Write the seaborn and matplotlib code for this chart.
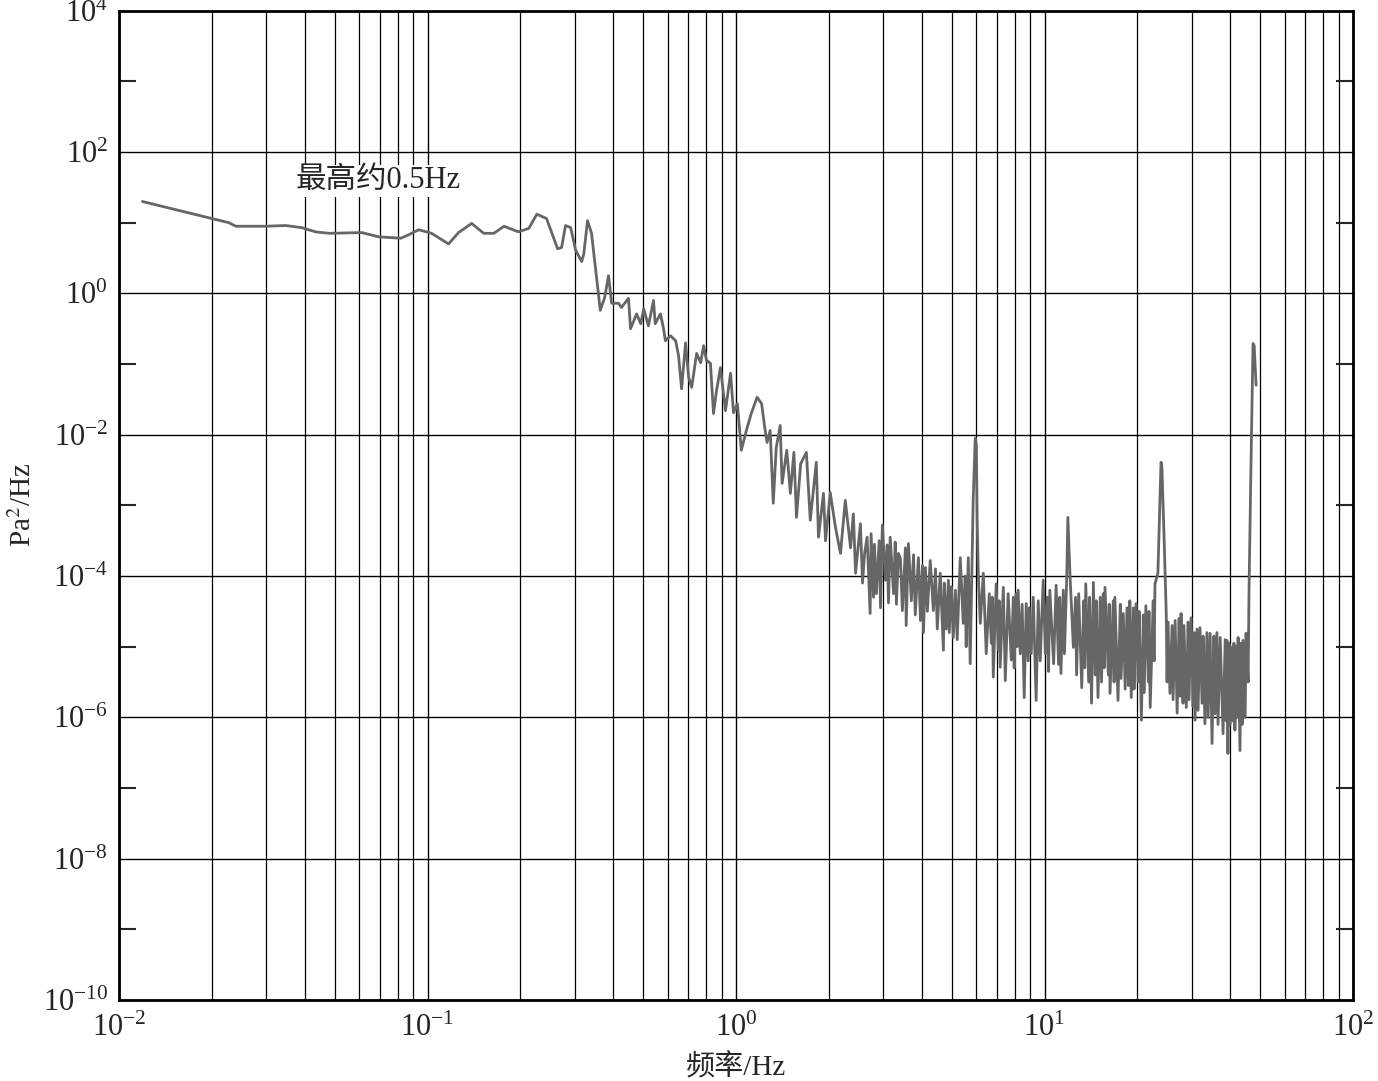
import numpy as np
import pandas as pd
import matplotlib
matplotlib.use("Agg")
import matplotlib.pyplot as plt
import matplotlib.ticker as mticker
import seaborn as sns

# ===============================
# Pressure PSD, log-log
# values
# ===============================

# frequency (Hz)
freq_hz = [
    0.0119, 0.0199, 0.0227, 0.0239, 0.0299, 0.0347, 0.0391, 0.0434, 0.0479, 0.0612,
    0.0695, 0.0819, 0.0869, 0.0936, 0.103, 0.117, 0.126, 0.139, 0.152, 0.164,
    0.177, 0.197, 0.213, 0.226, 0.243, 0.253, 0.264, 0.272, 0.280, 0.291,
    0.302, 0.316, 0.321, 0.330, 0.340, 0.350, 0.363, 0.375, 0.386, 0.395,
    0.416, 0.425, 0.448, 0.455, 0.476, 0.491, 0.502, 0.520, 0.540, 0.547,
    0.569, 0.582, 0.590, 0.613, 0.637, 0.651, 0.666, 0.686, 0.702, 0.718,
    0.745, 0.768, 0.785, 0.802, 0.826, 0.845, 0.864, 0.890, 0.924, 0.960,
    0.981, 1.01, 1.04, 1.08, 1.12, 1.17, 1.21, 1.24, 1.26, 1.29,
    1.32, 1.35, 1.39, 1.41, 1.46, 1.50, 1.54, 1.57, 1.62, 1.69,
    1.74, 1.82, 1.85, 1.92, 1.95, 2.02, 2.10, 2.18, 2.26, 2.35,
    2.40, 2.44,
    2.53, 2.57, 2.61, 2.66, 2.72, 2.74, 2.79, 2.81, 2.85, 2.91,
    2.94, 2.98, 3.05, 3.09, 3.12, 3.16, 3.24, 3.28, 3.31, 3.36,
    3.41, 3.46, 3.54, 3.56, 3.62, 3.70, 3.76, 3.81, 3.90, 3.96,
    4.02, 4.05, 4.11, 4.17, 4.26, 4.36, 4.43, 4.49, 4.59, 4.70,
    4.73, 4.80, 4.88, 4.91, 4.99, 5.06, 5.14, 5.21, 5.33, 5.45,
    5.53, 5.57, 5.66, 5.74, 5.83, 5.87, 5.96, 6.01, 6.05, 6.10,
    6.19, 6.33, 6.47, 6.62, 6.72, 6.77, 6.82, 6.97, 7.08, 7.13,
    7.18, 7.35, 7.46, 7.62, 7.80, 7.92, 7.97, 8.09, 8.15, 8.21,
    8.34, 8.46, 8.59, 8.72, 8.85, 8.92, 9.05, 9.19, 9.39, 9.54,
    9.68, 9.90, 10.06, 10.2, 10.3, 10.4, 10.7, 10.9, 11.1, 11.2,
    11.3, 11.5, 11.6, 11.8, 11.9, 12.1, 12.4, 12.6, 12.7, 12.9,
    13.2, 13.4, 13.5, 13.6, 13.9, 14.0, 14.2, 14.4, 14.6, 14.7,
    14.9, 15.15, 15.3, 15.5, 15.6, 15.7, 16.1, 16.2, 16.3, 16.7,
    16.8, 16.9, 17.3, 17.6, 17.7, 18.0, 18.25, 18.5, 18.7, 18.9,
    19.1, 19.4, 19.5, 19.8, 20.1, 20.25, 20.6, 20.9, 21.0, 21.3,
    21.7, 21.8, 22.0, 22.5, 22.65, 22.8, 23.3, 23.85, 24.0, 24.4,
    24.8, 24.95, 25.1, 25.5, 25.9, 26.1, 26.5, 26.9, 27.3, 27.5,
    27.7, 28.1, 28.3, 28.8, 29.2, 29.4, 29.85, 30.3, 30.5, 30.75,
    31.2, 31.45, 31.9, 32.4, 32.65, 33.1, 33.6, 33.9, 34.4, 34.9,
    35.4, 35.7, 36.2, 36.5, 37.1, 37.9, 38.5, 38.8, 39.0, 39.3,
    39.6, 39.9, 40.2, 40.8, 41.1, 41.4, 41.8, 42.1, 42.4, 43.0,
    43.35, 43.7, 44.0, 44.7, 45.0, 45.7, 46.0, 46.7, 47.4, 47.8,
    48.5,
]

# power spectral density, dB re 1 Pa^2/Hz
psd_db = [
    13.0, 10.6, 10.0, 9.5, 9.5, 9.6, 9.3, 8.7, 8.5, 8.6,
    8.0, 7.8, 8.3, 9.0, 8.5, 7.0, 8.6, 9.9, 8.5, 8.5,
    9.5, 8.7, 9.2, 11.2, 10.6, 8.5, 6.3, 6.5, 9.6, 9.3,
    6.1, 4.5, 5.6, 10.3, 8.5, 3.7, -2.4, -0.6, 2.5, -1.4,
    -1.4, -2.0, -0.7, -5.0, -2.9, -4.3, -2.2, -4.6, -1.0, -4.3,
    -2.9, -5.0, -6.7, -6.0, -6.7, -8.8, -13.5, -7.0, -11.9, -13.3,
    -8.5, -9.8, -7.4, -9.5, -9.9, -17.0, -13.8, -10.5, -16.6, -11.3,
    -16.9, -15.6, -22.2, -19.4, -17.0, -14.7, -15.6, -19.1, -21.1, -19.4,
    -29.7, -21.8, -18.7, -26.9, -22.2, -28.3, -22.5, -31.7, -24.1, -22.5,
    -32.1, -23.9, -34.5, -28.3, -35.0, -28.2, -33.1, -36.8, -29.3, -36.0,
    -31.2, -39.6,
    -32.6, -41.0, -36.8, -34.5, -45.3, -34.0, -43.0, -35.5, -42.5, -35.0,
    -44.5, -32.8, -40.6, -35.6, -43.8, -34.5, -42.5, -35.2, -44.0, -36.8,
    -37.5, -44.9, -36.0, -47.0, -35.4, -43.5, -37.0, -45.5, -37.4, -46.3,
    -38.5, -48.0, -38.8, -45.0, -37.8, -44.9, -39.0, -47.5, -39.6, -50.5,
    -41.0, -47.5, -40.6, -48.0, -41.5, -48.7, -42.0, -49.0, -37.4, -46.7,
    -40.0, -50.0, -37.4, -52.4, -36.8, -29.3, -20.5, -21.5, -32.6, -40.0,
    -46.7, -39.6, -51.0, -42.5, -49.5, -43.0, -54.3, -41.1, -50.5, -43.5,
    -52.9, -41.6, -54.8, -42.5, -51.9, -43.0, -53.0, -42.5, -50.0, -42.0,
    -51.0, -44.0, -57.2, -43.9, -52.0, -44.5, -51.0, -43.0, -57.6, -43.5,
    -52.0, -40.6, -51.0, -43.0, -53.5, -42.0, -52.4, -41.3, -52.5, -43.0,
    -53.8, -42.0, -51.0, -40.2, -31.7, -40.2, -50.1, -43.0, -54.0, -42.5,
    -55.8, -43.5, -53.0, -41.1, -55.0, -43.0, -58.0, -40.9, -54.0, -43.5,
    -57.2, -43.0, -55.0, -42.5, -53.0, -41.6, -54.0, -44.0, -56.6, -43.5,
    -55.0, -43.0, -57.6, -44.0, -54.5, -45.3, -56.0, -44.5, -55.5, -43.5,
    -57.2, -44.5, -56.0, -43.9, -55.0, -45.0, -60.4, -45.5, -56.5, -44.2,
    -55.0, -45.0, -58.6, -43.5, -52.0, -41.1, -39.6, -23.9, -24.4, -34.5,
    -45.3, -55.0, -46.5, -56.6, -47.0, -57.5, -46.3, -59.4, -46.0, -57.0,
    -45.3, -58.0, -47.0, -58.6, -46.5, -57.5, -45.9, -58.5, -48.0, -60.4,
    -47.5, -59.0, -47.3, -58.0, -48.5, -60.9, -48.0, -60.0, -48.1, -63.7,
    -48.5, -59.5, -48.0, -61.0, -48.7, -62.3, -49.0, -60.5, -49.1, -65.1,
    -49.5, -61.0, -50.1, -60.5, -49.5, -61.8, -50.0, -60.0, -48.7, -64.7,
    -49.5, -61.0, -49.1, -60.0, -48.1, -55.0, -42.0, -23.7, -7.1, -7.4,
    -13.0,
]

assert len(freq_hz) == len(psd_db)

y_major = 10.0 ** np.arange(-10, 5, 2)
y_minor = 10.0 ** np.arange(-9, 4, 2)

sns.set_style("white")
plt.rcParams["font.family"] = ["Liberation Serif", "Noto Sans CJK SC"]
plt.rcParams["mathtext.fontset"] = "stix"

df = pd.DataFrame({
    "freq": freq_hz,
    "psd": [10 ** (v / 10) for v in psd_db],
})

fig = plt.figure(figsize=(13.78, 10.81), dpi=100)
ax = fig.add_axes([0.0864, 0.0749, 0.8955, 0.9152])

sns.lineplot(data=df, x="freq", y="psd", ax=ax, sort=False, estimator=None,
             color="#666666", linewidth=2.0)

ax.set_xscale("log")
ax.set_yscale("log")
ax.set_xlim(1e-2, 1e2)
ax.set_ylim(1e-10, 1e4)

ax.xaxis.set_major_locator(mticker.LogLocator(base=10, numticks=10))
ax.xaxis.set_minor_locator(mticker.LogLocator(base=10, subs=np.arange(2, 10), numticks=100))
ax.xaxis.set_major_formatter(mticker.LogFormatterMathtext())
ax.xaxis.set_minor_formatter(mticker.NullFormatter())
ax.yaxis.set_major_locator(mticker.FixedLocator(y_major))
ax.yaxis.set_minor_locator(mticker.FixedLocator(y_minor))
ax.yaxis.set_major_formatter(mticker.LogFormatterMathtext())
ax.yaxis.set_minor_formatter(mticker.NullFormatter())

ax.grid(which="major", axis="both", color="black", linewidth=1.0)
ax.grid(which="minor", axis="x", color="black", linewidth=0.9)
ax.set_axisbelow(True)

ax.tick_params(axis="x", which="both", length=0, pad=10, labelsize=22)
ax.tick_params(axis="y", which="major", length=0, pad=8, labelsize=22)
ax.tick_params(axis="y", which="minor", direction="in", length=12, width=1.5,
               left=True, right=True)

for side in ["left", "right", "top", "bottom"]:
    ax.spines[side].set_color("black")
    ax.spines[side].set_linewidth(2.0)

ax.set_xlabel("频率/Hz", fontsize=21, labelpad=8)
ax.set_ylabel("Pa$^2$/Hz", fontsize=21, labelpad=4)

ax.text(0.0374, 39.4, "最高约0.5Hz", fontsize=22, ha="left", va="center",
        bbox=dict(facecolor="white", edgecolor="none", pad=1))

fig.savefig("out.png", dpi=100)
